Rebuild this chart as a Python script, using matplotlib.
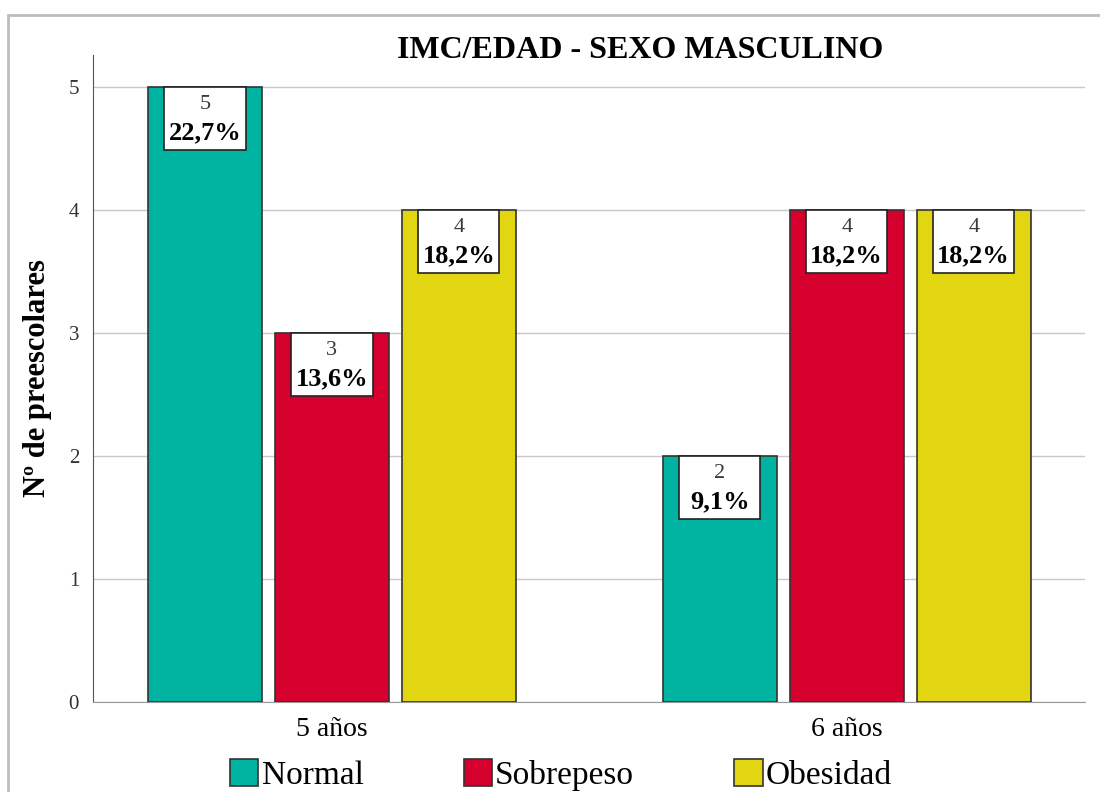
import matplotlib.pyplot as plt
from matplotlib.patches import Rectangle
import numpy as np

plt.rcParams['font.family'] = ['Liberation Serif', 'DejaVu Serif']

edades = ["5 años", "6 años"]
categorias = ["Normal", "Sobrepeso", "Obesidad"]
normal = [5, 2]
sobrepeso = [3, 4]
obesidad = [4, 4]
porc_normal = ["22,7%", "9,1%"]
porc_sobrepeso = ["13,6%", "18,2%"]
porc_obesidad = ["18,2%", "18,2%"]
colores = ["#00B2A0", "#D6002F", "#E2D612"]

series = [normal, sobrepeso, obesidad]
porcs = [porc_normal, porc_sobrepeso, porc_obesidad]

fig = plt.figure(figsize=(11, 7.92), dpi=100)
ax = fig.add_axes([0.0845, 0.1136, 0.9015, 0.817])

# marco gris exterior
fig.add_artist(Rectangle((0.0075, -0.05), 1.2, 1.031, transform=fig.transFigure,
                         fill=False, edgecolor="#BDBDBD", linewidth=2))

x = np.arange(len(edades))
ancho = 0.221
paso = 0.2466
caja_w = 0.158
caja_h = 0.512

for i, (vals, pc, col, cat) in enumerate(zip(series, porcs, colores, categorias)):
    xs = x + (i - 1) * paso
    ax.bar(xs, vals, width=ancho, color=col, edgecolor="#333333", linewidth=1.2,
           label=cat, zorder=3)
    for xi, v, p in zip(xs, vals, pc):
        ax.add_patch(Rectangle((xi - caja_w / 2, v - caja_h), caja_w, caja_h,
                               facecolor="white", edgecolor="#222222",
                               linewidth=1.2, zorder=4))
        ax.text(xi, v - 0.14, str(v), ha="center", va="center",
                fontsize=16, color="#3A3A3A", zorder=5)
        ax.text(xi, v - 0.37, p, ha="center", va="center",
                fontsize=19, fontweight="bold", zorder=5)

ax.set_xlim(-0.464, 1.462)
ax.set_ylim(0, 5.26)
ax.set_yticks(range(0, 6))
ax.set_xticks(x)
ax.set_xticklabels(edades, fontsize=20)
ax.tick_params(axis="y", labelsize=15, length=0, pad=10, labelcolor="#333333")
ax.tick_params(axis="x", length=0, pad=11)
ax.grid(axis="y", color="#C8C8C8", linewidth=1, zorder=0)
for s in ["top", "right"]:
    ax.spines[s].set_visible(False)
ax.spines["left"].set_color("#555555")
ax.spines["bottom"].set_color("#999999")

ax.set_ylabel("Nº de preescolares", fontsize=22, fontweight="bold", labelpad=12)
fig.text(0.582, 0.936, "IMC/EDAD - SEXO MASCULINO", ha="center", va="center",
         fontsize=23, fontweight="bold")

leg = ax.legend(loc="center", bbox_to_anchor=(0.472, -0.113), ncol=3,
                frameon=False, fontsize=24, handlelength=0.85, handleheight=0.85,
                handletextpad=0.1, columnspacing=3.0, borderaxespad=0,
                borderpad=0)
for h in leg.legend_handles:
    h.set_edgecolor("#333333")

fig.savefig("out.png", dpi=100)
